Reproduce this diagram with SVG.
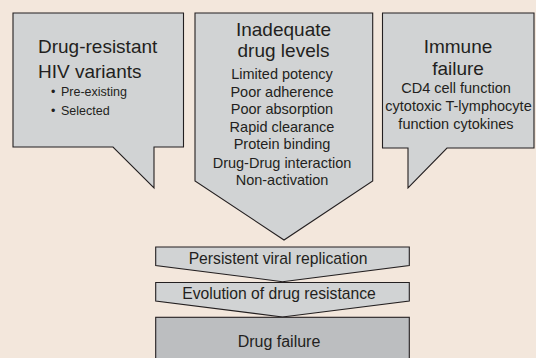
<svg xmlns="http://www.w3.org/2000/svg" width="536" height="358" viewBox="0 0 536 358">
  <style>
    .shape { fill: #d1d3d4; stroke: #231f20; stroke-width: 1.1; stroke-linejoin: miter; }
    .dark { fill: #bcbec0; }
    text { font-family: "Liberation Sans", Arial, sans-serif; fill: #231f20; }
    .head { font-size: 19px; }
    .sub { font-size: 14.5px; }
    .bul { font-size: 12.5px; }
    .bar { font-size: 15.7px; }
    .mid { text-anchor: middle; }
  </style>
  <rect x="0" y="0" width="536" height="358" fill="#f3e7dc"/>

  <!-- connectors: the flow from the causes down to the outcome is carried by the arrow-shaped nodes -->
  <g id="connectors"></g>

  <g id="resistant-variants">
    <polygon class="shape" points="13,13 183.5,13 183.5,147 154,147 154,188 113,147 13,147"/>
    <text class="head" x="38" y="53.3">Drug-resistant</text>
    <text class="head" x="38" y="77.7">HIV variants</text>
    <text class="bul" x="51" y="95.7">•</text>
    <text class="bul" x="61" y="95.7">Pre-existing</text>
    <text class="bul" x="51" y="115">•</text>
    <text class="bul" x="61" y="115">Selected</text>
  </g>

  <g id="drug-levels">
    <polygon class="shape" points="195,13 372.7,13 372.7,181 284,240 195,181"/>
    <text class="head mid" x="283.5" y="35.7">Inadequate</text>
    <text class="head mid" x="283.5" y="57.3">drug levels</text>
    <text class="sub mid" x="282" y="79">Limited potency</text>
    <text class="sub mid" x="282" y="96.7">Poor adherence</text>
    <text class="sub mid" x="282" y="114.3">Poor absorption</text>
    <text class="sub mid" x="282" y="131.5">Rapid clearance</text>
    <text class="sub mid" x="282" y="149">Protein binding</text>
    <text class="sub mid" x="282" y="167.5">Drug-Drug interaction</text>
    <text class="sub mid" x="282" y="185">Non-activation</text>
  </g>

  <g id="immune-failure">
    <polygon class="shape" points="382.5,13 534,13 534,148 447,148 408,188 408,148 382.5,148"/>
    <text class="head mid" x="458" y="53">Immune</text>
    <text class="head mid" x="458" y="74.5">failure</text>
    <text class="sub mid" x="456" y="93">CD4 cell function</text>
    <text class="sub mid" x="458.5" y="111">cytotoxic T-lymphocyte</text>
    <text class="sub mid" x="456" y="129">function cytokines</text>
  </g>

  <g id="viral-replication">
    <polygon class="shape" points="155.7,247 409.3,247 409.3,265.5 282.5,281.7 155.7,265.5"/>
    <text class="bar mid" x="278" y="264">Persistent viral replication</text>
  </g>

  <g id="resistance-evolution">
    <polygon class="shape" points="155.7,282.5 409.3,282.5 409.3,301 282.5,317 155.7,301"/>
    <text class="bar mid" x="279" y="299.3">Evolution of drug resistance</text>
  </g>

  <g id="drug-failure">
    <rect class="shape dark" x="155.7" y="317.3" width="253.6" height="45"/>
    <text class="bar mid" x="279" y="347.3" style="font-size:16px">Drug failure</text>
  </g>
</svg>
